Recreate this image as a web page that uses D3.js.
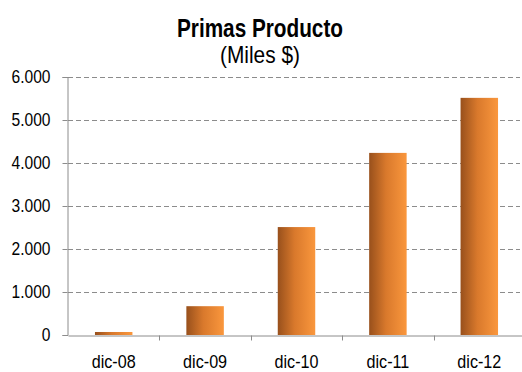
<!DOCTYPE html>
<html>
<head>
<meta charset="utf-8">
<script src="https://cdn.jsdelivr.net/npm/d3@7"></script>
<style>
  body { margin: 0; background: #fff; }
  svg { display: block; }
</style>
</head>
<body>
<div id="chart"></div>
<script>
// data
const categories = ['dic-08', 'dic-09', 'dic-10', 'dic-11', 'dic-12'];
const primas = [70, 670, 2510, 4235, 5515];
const yTicks = [0, 1000, 2000, 3000, 4000, 5000, 6000];

const width = 522, height = 372;
const margin = {top: 77, right: -3, bottom: 37, left: 68};
const labelFont = '"Liberation Sans", Arial, sans-serif';

let svg = d3.select('#chart')
  .append('svg')
  .attr('width', width)
  .attr('height', height);

//gradient for the bars, dark on the left
let grad = svg.append('defs').append('linearGradient')
  .attr('id', 'barGrad')
  .attr('x1', '0%').attr('x2', '100%')
  .attr('y1', '0%').attr('y2', '0%');
grad.append('stop').attr('offset', '0%').attr('stop-color', '#98501c');
grad.append('stop').attr('offset', '45%').attr('stop-color', '#d9792c');
grad.append('stop').attr('offset', '100%').attr('stop-color', '#fa973d');

let x = d3.scaleBand()
  .domain(categories)
  .range([margin.left, width - margin.right]);

let y = d3.scaleLinear()
  .domain([0, 6000])
  .range([height - margin.bottom, margin.top]);

let fmt = d => d3.format(',')(d).replace(/,/g, '.');

//squeeze text sideways so it looks like the narrow face in the original
function narrow(sel, k){
  sel.attr('lengthAdjust', 'spacingAndGlyphs')
    .attr('textLength', function(){ return this.getComputedTextLength() * k; });
}

//grid lines
svg.append('g')
  .selectAll('line')
  .data(yTicks.filter(d => d > 0))
  .join('line')
  .attr('x1', margin.left)
  .attr('x2', width - 2)
  .attr('y1', d => Math.round(y(d)) + 0.5)
  .attr('y2', d => Math.round(y(d)) + 0.5)
  .style('stroke', '#8c8c8c')
  .style('stroke-width', 1)
  .style('stroke-dasharray', '5,3');

//bars
let barW = x.bandwidth() * 0.41;
svg.append('g')
  .selectAll('rect')
  .data(primas)
  .join('rect')
  .attr('x', (d, i) => x(categories[i]) + (x.bandwidth() - barW) / 2)
  .attr('y', d => y(d))
  .attr('width', barW)
  .attr('height', d => y(0) - y(d))
  .attr('fill', 'url(#barGrad)');

//y axis
let yAxis = svg.append('g')
  .attr('transform', 'translate(' + (margin.left - 0.5) + ',0)')
  .call(d3.axisLeft(y).tickValues(yTicks).tickFormat(fmt).tickSize(5).tickPadding(12));
yAxis.select('.domain').attr('stroke', '#8c8c8c');
yAxis.selectAll('line').attr('stroke', '#8c8c8c');
yAxis.selectAll('text')
  .attr('font-family', labelFont)
  .attr('font-size', '17.5px')
  .attr('fill', '#000')
  .call(narrow, 0.89);

//x axis
let xAxis = svg.append('g')
  .attr('transform', 'translate(0,' + (Math.round(y(0)) + 0.5) + ')')
  .call(d3.axisBottom(x).tickSize(0).tickPadding(19));
xAxis.select('.domain').attr('stroke', '#8c8c8c');
xAxis.selectAll('text')
  .attr('font-family', labelFont)
  .attr('font-size', '19px')
  .attr('fill', '#000')
  .call(narrow, 0.85);
//tick marks between categories
xAxis.append('g')
  .selectAll('line')
  .data(categories.slice(1))
  .join('line')
  .attr('x1', d => Math.round(x(d)) + 0.5)
  .attr('x2', d => Math.round(x(d)) + 0.5)
  .attr('y1', 0)
  .attr('y2', 5)
  .attr('stroke', '#8c8c8c');

//titles
svg.append('text')
  .attr('x', 260)
  .attr('y', 36.5)
  .attr('text-anchor', 'middle')
  .attr('font-family', labelFont)
  .attr('font-size', '25px')
  .attr('font-weight', 'bold')
  .attr('fill', '#000')
  .attr('textLength', 166)
  .attr('lengthAdjust', 'spacingAndGlyphs')
  .text('Primas Producto');
svg.append('text')
  .attr('x', 260)
  .attr('y', 63)
  .attr('text-anchor', 'middle')
  .attr('font-family', labelFont)
  .attr('font-size', '24px')
  .attr('fill', '#000')
  .attr('textLength', 80)
  .attr('lengthAdjust', 'spacingAndGlyphs')
  .text('(Miles $)');
</script>
</body>
</html>
